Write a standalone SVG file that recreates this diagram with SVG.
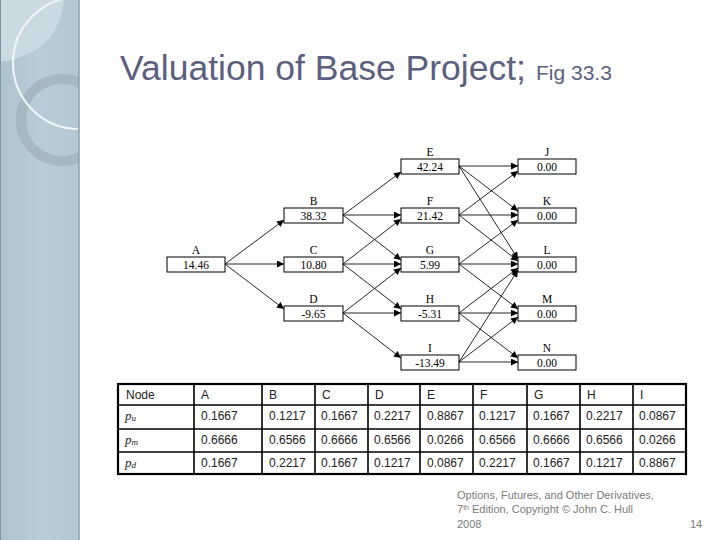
<svg xmlns="http://www.w3.org/2000/svg" width="720" height="540" viewBox="0 0 720 540">
<defs>
<linearGradient id="band" x1="0" y1="0" x2="1" y2="0">
<stop offset="0" stop-color="#aec2ce"/>
<stop offset="0.5" stop-color="#b9ccd8"/>
<stop offset="1" stop-color="#b4c7d3"/>
</linearGradient>
<clipPath id="bandclip"><rect x="0" y="0" width="79" height="540"/></clipPath>
<marker id="ah" viewBox="0 0 10 10" refX="10" refY="5" markerWidth="9" markerHeight="7" markerUnits="userSpaceOnUse" orient="auto">
<path d="M0,0 L10,5 L0,10 Z" fill="#000"/>
</marker>
<style>
.box{fill:#fff;stroke:#000;stroke-width:1}
.nl{font-family:"Liberation Serif","Times New Roman",serif;font-size:11.5px;fill:#000;text-anchor:middle}
.edge{stroke:#000;stroke-width:0.85;fill:none;marker-end:url(#ah)}
.tt{font-family:"Liberation Sans",Arial,sans-serif;font-size:12px;fill:#222}
.tp{font-family:"Liberation Serif","Times New Roman",serif;font-style:italic;font-size:13px;fill:#222}
.title{font-family:"Liberation Sans",Arial,sans-serif;fill:#5b6080}
.foot{font-family:"Liberation Sans",Arial,sans-serif;font-size:11px;fill:#7a7a7a}
</style>
</defs>
<rect width="720" height="540" fill="#fff"/>
<g id="sideband">
<rect x="0" y="0" width="79" height="540" fill="url(#band)"/>
<g clip-path="url(#bandclip)">
<path d="M0,0 L64,0 Q58,54 0,62 Z" fill="#cad9e2"/>
<circle cx="62" cy="120" r="41" fill="none" stroke="#a7b8c4" stroke-width="10"/>
<circle cx="79" cy="63" r="66" fill="none" stroke="#eef3f6" stroke-width="2.2"/>
</g>
<line x1="79" y1="0" x2="79" y2="540" stroke="#8d9eaa" stroke-width="1.5"/>
<line x1="0.5" y1="0" x2="0.5" y2="540" stroke="#7f929e" stroke-width="1"/>
</g>
<g id="title">
<text class="title" x="120" y="80" font-size="35.5">Valuation of Base Project;</text>
<text class="title" x="536" y="80" font-size="21">Fig 33.3</text>
</g>
<g id="connectors">
<line class="edge" x1="225" y1="264" x2="284" y2="220"/>
<line class="edge" x1="225" y1="264" x2="284" y2="264"/>
<line class="edge" x1="225" y1="264" x2="284" y2="309"/>
<line class="edge" x1="343" y1="215" x2="401" y2="172"/>
<line class="edge" x1="343" y1="215" x2="401" y2="215"/>
<line class="edge" x1="343" y1="215" x2="401" y2="260"/>
<line class="edge" x1="343" y1="264" x2="401" y2="219"/>
<line class="edge" x1="343" y1="264" x2="401" y2="264"/>
<line class="edge" x1="343" y1="264" x2="401" y2="309"/>
<line class="edge" x1="343" y1="313" x2="401" y2="268"/>
<line class="edge" x1="343" y1="313" x2="401" y2="313"/>
<line class="edge" x1="343" y1="313" x2="401" y2="358"/>
<line class="edge" x1="459" y1="166" x2="518" y2="166"/>
<line class="edge" x1="459" y1="166" x2="518" y2="211"/>
<line class="edge" x1="459" y1="166" x2="518" y2="259"/>
<line class="edge" x1="459" y1="215" x2="518" y2="171"/>
<line class="edge" x1="459" y1="215" x2="518" y2="215"/>
<line class="edge" x1="459" y1="215" x2="518" y2="261"/>
<line class="edge" x1="459" y1="264" x2="518" y2="220"/>
<line class="edge" x1="459" y1="264" x2="518" y2="264"/>
<line class="edge" x1="459" y1="264" x2="518" y2="309"/>
<line class="edge" x1="459" y1="313" x2="518" y2="268"/>
<line class="edge" x1="459" y1="313" x2="518" y2="313"/>
<line class="edge" x1="459" y1="313" x2="518" y2="358"/>
<line class="edge" x1="459" y1="362" x2="518" y2="270"/>
<line class="edge" x1="459" y1="362" x2="518" y2="317"/>
<line class="edge" x1="459" y1="362" x2="518" y2="362"/>
</g>
<g id="node-A"><text class="nl" x="196" y="254">A</text><rect class="box" x="167" y="257" width="58" height="15"/><text class="nl" x="196" y="268.5">14.46</text></g>
<g id="node-B"><text class="nl" x="313.5" y="205">B</text><rect class="box" x="284" y="208" width="59" height="15"/><text class="nl" x="313.5" y="219.5">38.32</text></g>
<g id="node-C"><text class="nl" x="313.5" y="254">C</text><rect class="box" x="284" y="257" width="59" height="15"/><text class="nl" x="313.5" y="268.5">10.80</text></g>
<g id="node-D"><text class="nl" x="313.5" y="303">D</text><rect class="box" x="284" y="306" width="59" height="15"/><text class="nl" x="313.5" y="317.5">-9.65</text></g>
<g id="node-E"><text class="nl" x="430" y="156">E</text><rect class="box" x="401" y="159" width="58" height="15"/><text class="nl" x="430" y="170.5">42.24</text></g>
<g id="node-F"><text class="nl" x="430" y="205">F</text><rect class="box" x="401" y="208" width="58" height="15"/><text class="nl" x="430" y="219.5">21.42</text></g>
<g id="node-G"><text class="nl" x="430" y="254">G</text><rect class="box" x="401" y="257" width="58" height="15"/><text class="nl" x="430" y="268.5">5.99</text></g>
<g id="node-H"><text class="nl" x="430" y="303">H</text><rect class="box" x="401" y="306" width="58" height="15"/><text class="nl" x="430" y="317.5">-5.31</text></g>
<g id="node-I"><text class="nl" x="430" y="352">I</text><rect class="box" x="401" y="355" width="58" height="15"/><text class="nl" x="430" y="366.5">-13.49</text></g>
<g id="node-J"><text class="nl" x="547" y="156">J</text><rect class="box" x="518" y="159" width="58" height="15"/><text class="nl" x="547" y="170.5">0.00</text></g>
<g id="node-K"><text class="nl" x="547" y="205">K</text><rect class="box" x="518" y="208" width="58" height="15"/><text class="nl" x="547" y="219.5">0.00</text></g>
<g id="node-L"><text class="nl" x="547" y="254">L</text><rect class="box" x="518" y="257" width="58" height="15"/><text class="nl" x="547" y="268.5">0.00</text></g>
<g id="node-M"><text class="nl" x="547" y="303">M</text><rect class="box" x="518" y="306" width="58" height="15"/><text class="nl" x="547" y="317.5">0.00</text></g>
<g id="node-N"><text class="nl" x="547" y="352">N</text><rect class="box" x="518" y="355" width="58" height="15"/><text class="nl" x="547" y="366.5">0.00</text></g>
<g id="table">
<rect x="118" y="384" width="568" height="90" fill="#fff" stroke="#000" stroke-width="2.2"/>
<g stroke="#000" stroke-width="1.6">
<line x1="118" y1="405" x2="686" y2="405"/>
<line x1="118" y1="429" x2="686" y2="429"/>
<line x1="118" y1="452" x2="686" y2="452"/>
<line x1="194" y1="384" x2="194" y2="474"/>
<line x1="262" y1="384" x2="262" y2="474"/>
<line x1="315" y1="384" x2="315" y2="474"/>
<line x1="368" y1="384" x2="368" y2="474"/>
<line x1="420" y1="384" x2="420" y2="474"/>
<line x1="473" y1="384" x2="473" y2="474"/>
<line x1="527" y1="384" x2="527" y2="474"/>
<line x1="580" y1="384" x2="580" y2="474"/>
<line x1="633" y1="384" x2="633" y2="474"/>
</g>
<text class="tt" x="126" y="399">Node</text>
<text class="tt" x="201" y="399">A</text>
<text class="tt" x="269" y="399">B</text>
<text class="tt" x="322" y="399">C</text>
<text class="tt" x="375" y="399">D</text>
<text class="tt" x="427" y="399">E</text>
<text class="tt" x="480" y="399">F</text>
<text class="tt" x="534" y="399">G</text>
<text class="tt" x="587" y="399">H</text>
<text class="tt" x="640" y="399">I</text>
<text class="tp" x="125" y="420">p<tspan font-size="9" dy="1">u</tspan></text>
<text class="tp" x="125" y="444">p<tspan font-size="9" dy="1">m</tspan></text>
<text class="tp" x="125" y="467">p<tspan font-size="9" dy="1">d</tspan></text>
<text class="tt" x="201" y="420">0.1667</text>
<text class="tt" x="269" y="420">0.1217</text>
<text class="tt" x="321" y="420">0.1667</text>
<text class="tt" x="374" y="420">0.2217</text>
<text class="tt" x="427" y="420">0.8867</text>
<text class="tt" x="479" y="420">0.1217</text>
<text class="tt" x="533" y="420">0.1667</text>
<text class="tt" x="586" y="420">0.2217</text>
<text class="tt" x="639" y="420">0.0867</text>
<text class="tt" x="201" y="444">0.6666</text>
<text class="tt" x="269" y="444">0.6566</text>
<text class="tt" x="321" y="444">0.6666</text>
<text class="tt" x="374" y="444">0.6566</text>
<text class="tt" x="427" y="444">0.0266</text>
<text class="tt" x="479" y="444">0.6566</text>
<text class="tt" x="533" y="444">0.6666</text>
<text class="tt" x="586" y="444">0.6566</text>
<text class="tt" x="639" y="444">0.0266</text>
<text class="tt" x="201" y="467">0.1667</text>
<text class="tt" x="269" y="467">0.2217</text>
<text class="tt" x="321" y="467">0.1667</text>
<text class="tt" x="374" y="467">0.1217</text>
<text class="tt" x="427" y="467">0.0867</text>
<text class="tt" x="479" y="467">0.2217</text>
<text class="tt" x="533" y="467">0.1667</text>
<text class="tt" x="586" y="467">0.1217</text>
<text class="tt" x="639" y="467">0.8867</text>
</g>
<g id="footer">
<text class="foot" x="457" y="499">Options, Futures, and Other Derivatives,</text>
<text class="foot" x="457" y="513">7<tspan font-size="7" dy="-3">th</tspan><tspan dy="3"> Edition, Copyright © John  C. Hull</tspan></text>
<text class="foot" x="457" y="528">2008</text>
<text class="foot" x="690" y="528">14</text>
</g>
</svg>
